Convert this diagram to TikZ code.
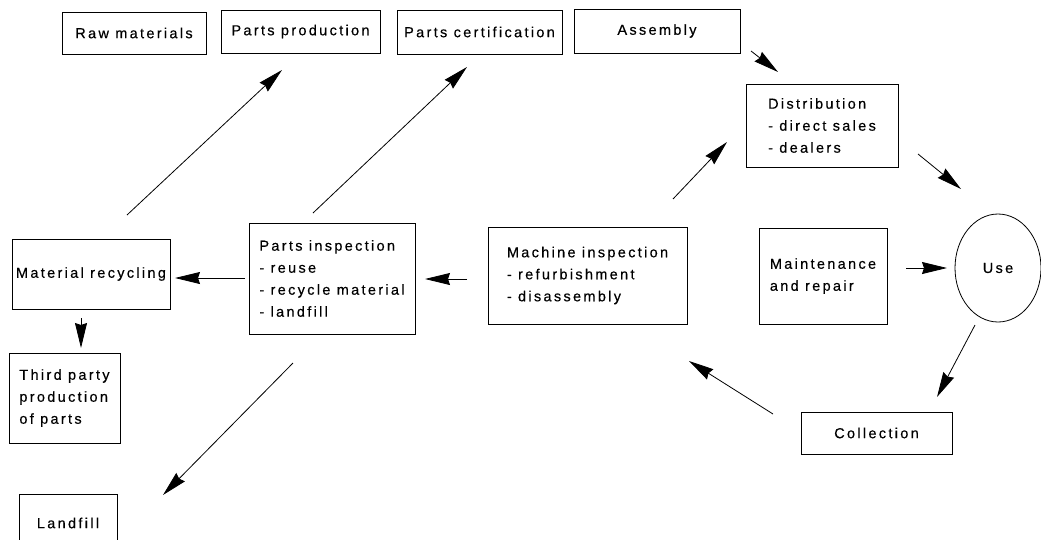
\documentclass[tikz,border=0pt]{standalone}
\usepackage{fontspec}
\newfontfamily\diafont[LetterSpace=16,FakeBold=0.4]{Liberation Sans}
\usetikzlibrary{arrows.meta, shapes.geometric}

\begin{document}
\begin{tikzpicture}[x=1pt,y=-1pt,
    box/.style={draw,line width=0.8pt,align=left,inner sep=0pt,
        font=\diafont\fontsize{14.5}{22}\selectfont},
    freccia/.style={-{Stealth[length=25pt,width=12pt,inset=2pt]},line width=0.8pt}]
    \useasboundingbox (0,0) rectangle (1041,539);

    % riga in alto
    \node[box,minimum width=144pt,minimum height=42pt] (raw) at (134,33) {Raw materials};
    \node[box,minimum width=159pt,minimum height=43pt] (prod) at (300.5,31.5) {Parts production};
    \node[box,minimum width=165pt,minimum height=44pt] (cert) at (479.5,32) {Parts certification};
    \node[box,minimum width=166pt,minimum height=44pt] (asm) at (657,31) {Assembly};

    % ciclo a destra
    \node[box,minimum width=152pt,minimum height=83pt] (dist) at (822,125.5) {Distribution\\- direct sales\\- dealers};
    \node[box,ellipse,minimum width=86pt,minimum height=108pt] (use) at (998,268) {Use};
    \node[box,minimum width=128pt,minimum height=96pt] (maint) at (823,276) {Maintenance\\and repair};
    \node[box,minimum width=151pt,minimum height=42pt] (coll) at (876.5,433) {Collection};

    % ispezioni
    \node[box,minimum width=199pt,minimum height=97pt] (mach) at (587.5,275.5) {Machine inspection\\- refurbishment\\- disassembly};
    \node[box,minimum width=166pt,minimum height=111pt] (pinsp) at (332,278.5) {Parts inspection\\- reuse\\- recycle material\\- landfill};

    % a sinistra
    \node[box,minimum width=158pt,minimum height=70pt] (matrec) at (91,274) {Material recycling};
    \node[box,minimum width=111pt,minimum height=90pt] (third) at (64.5,398) {Third party\\production\\of parts};
    \node[box,minimum width=98pt,minimum height=58pt] (landfill) at (68,523) {Landfill};

    % estremi delle frecce
    \coordinate (matrec-up) at (127,215);   \coordinate (prod-in) at (282,70);
    \coordinate (pinsp-up) at (313,213);    \coordinate (cert-in) at (467,67);
    \coordinate (asm-out) at (751,51);      \coordinate (dist-top) at (778,72);
    \coordinate (mach-up) at (673,199);     \coordinate (dist-in) at (727,142);
    \coordinate (dist-out) at (918,154);    \coordinate (use-top) at (961,189);
    \coordinate (maint-out) at (906,268);   \coordinate (use-in) at (947,268);
    \coordinate (use-out) at (975,325);     \coordinate (coll-in) at (937,397);
    \coordinate (coll-out) at (773,414);    \coordinate (mach-in) at (689,361);
    \coordinate (mach-out) at (467,279);    \coordinate (pinsp-in) at (425,279);
    \coordinate (pinsp-out) at (245,278);   \coordinate (matrec-in) at (175,278);
    \coordinate (matrec-down) at (81,318);  \coordinate (third-in) at (81,348);
    \coordinate (pinsp-down) at (293,363);  \coordinate (landfill-in) at (163,495);

    % frecce
    \draw[freccia] (matrec-up) -- (prod-in);
    \draw[freccia] (pinsp-up) -- (cert-in);
    \draw[freccia] (asm-out) -- (dist-top);
    \draw[freccia] (mach-up) -- (dist-in);
    \draw[freccia] (dist-out) -- (use-top);
    \draw[freccia] (maint-out) -- (use-in);
    \draw[freccia] (use-out) -- (coll-in);
    \draw[freccia] (coll-out) -- (mach-in);
    \draw[freccia] (mach-out) -- (pinsp-in);
    \draw[freccia] (pinsp-out) -- (matrec-in);
    \draw[freccia] (matrec-down) -- (third-in);
    \draw[freccia] (pinsp-down) -- (landfill-in);
\end{tikzpicture}
\end{document}
